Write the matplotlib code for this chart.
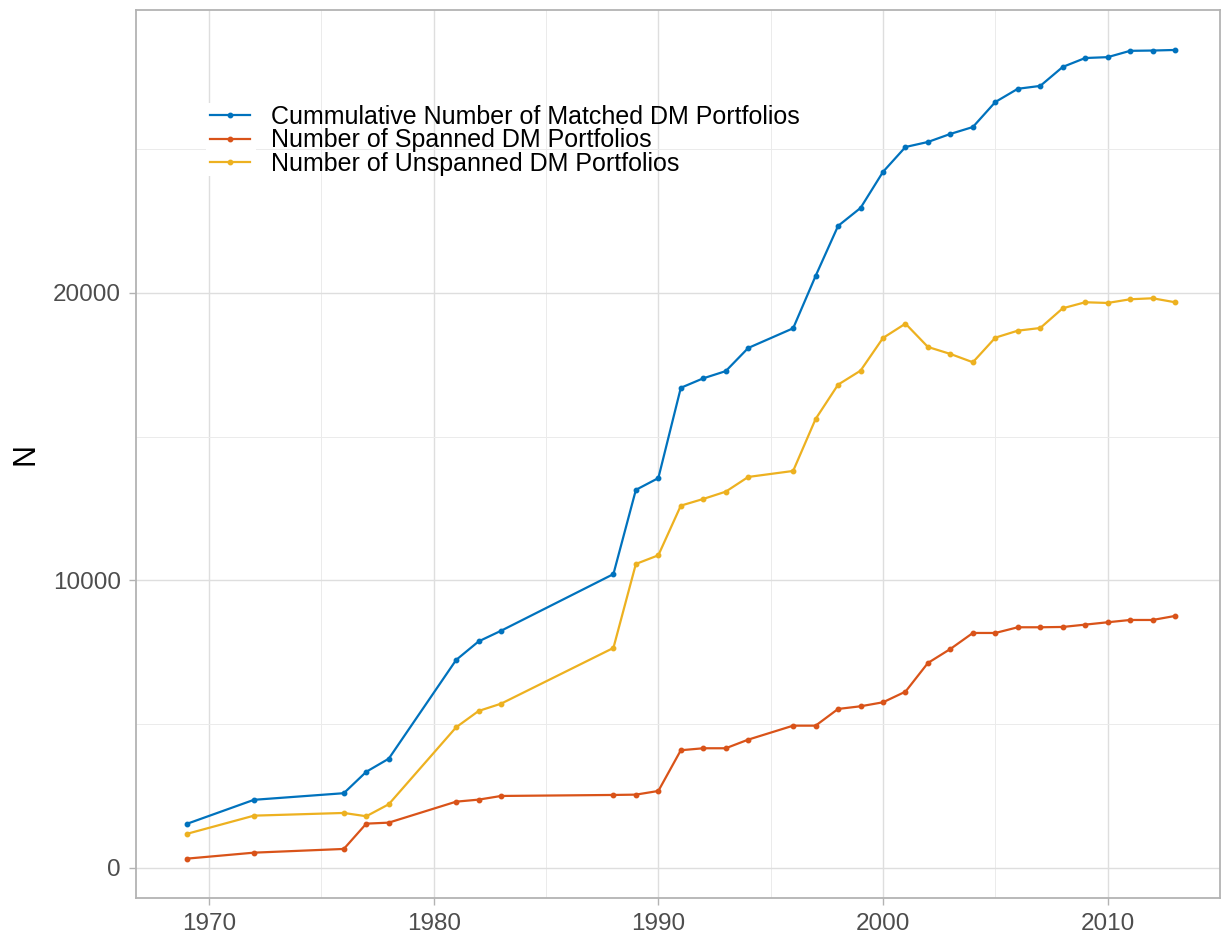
import matplotlib
matplotlib.use("Agg")
import matplotlib.pyplot as plt
from matplotlib.patches import Rectangle
from matplotlib.ticker import MultipleLocator

plt.rcParams['font.family'] = ['Liberation Sans', 'DejaVu Sans']

years = [1969, 1972, 1976, 1977, 1978, 1981, 1982, 1983, 1988, 1989, 1990,
         1991, 1992, 1993, 1994, 1996, 1997, 1998, 1999, 2000, 2001, 2002,
         2003, 2004, 2005, 2006, 2007, 2008, 2009, 2010, 2011, 2012, 2013]

cumulative_matched = [1530, 2370, 2600, 3345, 3800, 7235, 7880, 8250, 10220, 13150, 13560,
                      16700, 17030, 17280, 18085, 18770, 20590, 22330, 22955, 24210, 25075, 25250,
                      25530, 25770, 26640, 27100, 27200, 27860, 28170, 28200, 28420, 28430, 28450]

spanned = [323, 532, 661, 1541, 1576, 2306, 2376, 2504, 2539, 2550, 2678,
           4094, 4163, 4163, 4463, 4949, 4949, 5530, 5623, 5762, 6132, 7130,
           7617, 8173, 8173, 8371, 8371, 8382, 8463, 8545, 8625, 8625, 8765]

unspanned = [1183, 1819, 1913, 1798, 2215, 4893, 5460, 5714, 7652, 10573, 10875,
             12601, 12834, 13088, 13599, 13808, 15616, 16809, 17296, 18433, 18931, 18120,
             17877, 17588, 18444, 18687, 18780, 19466, 19675, 19651, 19779, 19814, 19675]

labels = ["Cummulative Number of Matched DM Portfolios",
          "Number of Spanned DM Portfolios",
          "Number of Unspanned DM Portfolios"]
colors = ["#0072BD", "#D95319", "#EDB120"]

W, H = 1223, 939
fig = plt.figure(figsize=(W / 100, H / 100), dpi=100)
L, R, B, T = 136, 1220, 898, 10
ax = fig.add_axes([L / W, (H - B) / H, (R - L) / W, (B - T) / H])

for vals, lab, col in zip([cumulative_matched, spanned, unspanned], labels, colors):
    ax.plot(years, vals, color=col, lw=1.6, marker='o', ms=3.2, label=lab, zorder=3)

ax.set_xlim(1966.75, 2015.0)
ax.set_ylim(-1045, 29840)
ax.xaxis.set_major_locator(MultipleLocator(10))
ax.xaxis.set_minor_locator(MultipleLocator(5))
ax.yaxis.set_major_locator(MultipleLocator(10000))
ax.yaxis.set_minor_locator(MultipleLocator(5000))

ax.grid(which='major', color='#DEDEDE', lw=1.0, zorder=0)
ax.grid(which='minor', color='#EBEBEB', lw=0.7, zorder=0)
ax.set_axisbelow(True)

for sp in ax.spines.values():
    sp.set_color('#B3B3B3')
    sp.set_linewidth(1.3)

ax.tick_params(which='major', length=5, width=1, color='#B3B3B3',
               labelsize=17.5, labelcolor='#4D4D4D', pad=6)
ax.tick_params(which='minor', length=0)

ax.set_ylabel("N", fontsize=22, color='black', labelpad=9)

# white key backgrounds (like ggplot legend keys)
ax.add_patch(Rectangle(((206 - L) / (R - L), (B - 176) / (B - T)),
                       50 / (R - L), 73 / (B - T), transform=ax.transAxes,
                       facecolor='white', edgecolor='none', zorder=1))

leg = ax.legend(loc='upper left', bbox_to_anchor=((210 - L) / (R - L), (B - 105) / (B - T)),
                frameon=False, fontsize=18, borderpad=0, borderaxespad=0,
                handlelength=1.6, handletextpad=0.85, labelspacing=-0.03)
for t in leg.get_texts():
    t.set_color('black')

fig.savefig("out.png", dpi=100)
